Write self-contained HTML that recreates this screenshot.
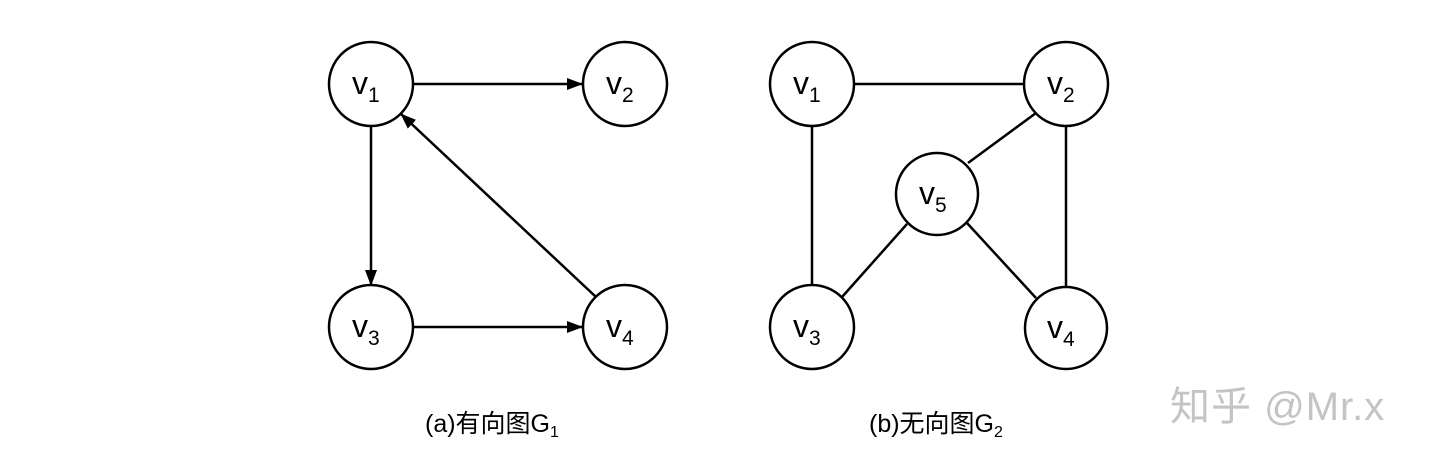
<!DOCTYPE html>
<html><head><meta charset="utf-8"><style>body{margin:0;background:#fff}svg{display:block}</style></head><body>
<svg width="1440" height="461" viewBox="0 0 1440 461" xmlns="http://www.w3.org/2000/svg" font-family="'Liberation Sans','Noto Sans CJK SC',sans-serif">
<defs><marker id="a" markerWidth="16" markerHeight="12" refX="15" refY="6" orient="auto" markerUnits="userSpaceOnUse"><path d="M0,0 L16,6 L0,12 z" fill="#000"/></marker></defs>
<g stroke="#000" stroke-width="2.5" fill="none">
<line x1="413" y1="84" x2="582" y2="84" marker-end="url(#a)"/>
<line x1="371" y1="126" x2="371" y2="285" marker-end="url(#a)"/>
<line x1="413" y1="327" x2="582" y2="327" marker-end="url(#a)"/>
<line x1="596" y1="297" x2="401" y2="114" marker-end="url(#a)"/>
<circle cx="371" cy="84" r="42" fill="#fff"/><circle cx="625" cy="84" r="42" fill="#fff"/>
<circle cx="371" cy="327" r="42" fill="#fff"/><circle cx="625" cy="327" r="42" fill="#fff"/>
<line x1="854" y1="84" x2="1025" y2="84"/>
<line x1="812" y1="126" x2="812" y2="285"/>
<line x1="1066" y1="126" x2="1066" y2="286"/>
<line x1="1036" y1="113" x2="968" y2="163"/>
<line x1="907" y1="224" x2="842" y2="297"/>
<line x1="967" y1="223" x2="1036" y2="298"/>
<circle cx="812" cy="84" r="42" fill="#fff"/><circle cx="1066" cy="84" r="42" fill="#fff"/>
<circle cx="937" cy="194" r="41" fill="#fff"/>
<circle cx="812" cy="327" r="42" fill="#fff"/><circle cx="1066" cy="328" r="41" fill="#fff"/>
</g>
<g font-size="32" fill="#000">
<text x="352" y="94">v<tspan font-size="21" dy="8">1</tspan></text>
<text x="606" y="94">v<tspan font-size="21" dy="8">2</tspan></text>
<text x="352" y="337">v<tspan font-size="21" dy="8">3</tspan></text>
<text x="606" y="337">v<tspan font-size="21" dy="8">4</tspan></text>
<text x="793" y="94">v<tspan font-size="21" dy="8">1</tspan></text>
<text x="1047" y="94">v<tspan font-size="21" dy="8">2</tspan></text>
<text x="919" y="204">v<tspan font-size="21" dy="8">5</tspan></text>
<text x="793" y="337">v<tspan font-size="21" dy="8">3</tspan></text>
<text x="1047" y="338">v<tspan font-size="21" dy="8">4</tspan></text>
</g>
<g font-size="25" fill="#000">
<text x="425" y="432">(a)有向图G<tspan font-size="16" dy="5">1</tspan></text>
<text x="869" y="432">(b)无向图G<tspan font-size="16" dy="5">2</tspan></text>
</g>
<text x="1170" y="420" font-size="40" letter-spacing="1" fill="#c4c4c4">知乎 @Mr.x</text>
</svg>
</body></html>
